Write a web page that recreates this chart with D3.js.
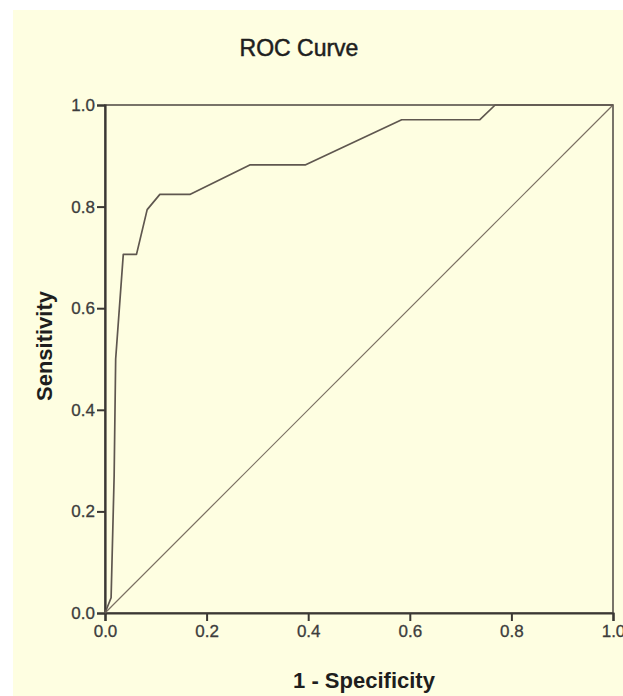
<!DOCTYPE html>
<html>
<head>
<meta charset="utf-8">
<script src="https://cdn.jsdelivr.net/npm/d3@7"></script>
<style>
  html, body { margin: 0; padding: 0; background: #fff; }
  svg { display: block; font-family: "Liberation Sans", Arial, sans-serif; }
</style>
</head>
<body>
<svg id="chart" width="623" height="696"></svg>
<script>
// ROC curve points (1 - specificity, sensitivity)
const fpr = [0, 0.012, 0.018, 0.021, 0.036, 0.062, 0.083, 0.108, 0.167, 0.285, 0.394, 0.584, 0.738, 0.768, 1.0];
const tpr = [0, 0.03, 0.27, 0.50, 0.706, 0.706, 0.794, 0.824, 0.824, 0.882, 0.882, 0.971, 0.971, 1.0, 1.0];
const refLine = [0, 1];
const ticks = [0, 0.2, 0.4, 0.6, 0.8, 1.0];

const svg = d3.select('#chart');
const W = 623, H = 696;
const m = {left: 105, right: 10, top: 105, bottom: 83};

// pale yellow chart panel
svg.append('rect').attr('x', 13).attr('y', 10).attr('width', W - 13).attr('height', H - 10)
  .attr('fill', '#fefee1');

const x = d3.scaleLinear().domain([0, 1]).range([m.left, W - m.right]);
const y = d3.scaleLinear().domain([0, 1]).range([H - m.bottom, m.top]);

// frame
svg.append('rect').attr('x', x(0)).attr('y', y(1))
  .attr('width', x(1) - x(0)).attr('height', y(0) - y(1))
  .attr('fill', 'none').attr('stroke', '#57524b').attr('stroke-width', 1.6);

// axes
const fmt = d3.format('.1f');
const xAxis = svg.append('g').attr('transform', `translate(0,${y(0)})`)
  .call(d3.axisBottom(x).tickValues(ticks).tickFormat(fmt).tickSize(8).tickPadding(4));
const yAxis = svg.append('g').attr('transform', `translate(${x(0)},0)`)
  .call(d3.axisLeft(y).tickValues(ticks).tickFormat(fmt).tickSize(8).tickPadding(2));

[xAxis, yAxis].forEach(a => {
  a.select('.domain').attr('stroke', '#3b3834').attr('stroke-width', 2.2);
  a.selectAll('.tick line').attr('stroke', '#3b3834').attr('stroke-width', 2);
  a.selectAll('.tick text').attr('fill', '#3c3c3c').style('font-size', '17px')
    .attr('stroke', '#3c3c3c').attr('stroke-width', 0.3)
    .style('font-family', '"Liberation Sans", Arial, sans-serif');
});

// diagonal reference line
svg.append('line')
  .attr('x1', x(refLine[0])).attr('y1', y(refLine[0]))
  .attr('x2', x(refLine[1])).attr('y2', y(refLine[1]))
  .attr('stroke', '#7a6f62').attr('stroke-width', 1.2);

// ROC curve
const pts = fpr.map((f, i) => [f, tpr[i]]);
svg.append('path').datum(pts)
  .attr('fill', 'none').attr('stroke', '#5f574f').attr('stroke-width', 1.7)
  .attr('stroke-linejoin', 'round')
  .attr('d', d3.line().x(d => x(d[0])).y(d => y(d[1])));

// titles
svg.append('text').attr('x', 299).attr('y', 56).attr('text-anchor', 'middle')
  .attr('fill', '#1e1e1e').attr('stroke', '#1e1e1e').attr('stroke-width', 0.5)
  .style('font-size', '23px').text('ROC Curve');

svg.append('text').attr('x', 364).attr('y', 688).attr('text-anchor', 'middle')
  .attr('fill', '#1e1e1e').style('font-size', '22px').style('font-weight', 'bold')
  .text('1 - Specificity');

svg.append('text').attr('transform', 'translate(52,346) rotate(-90)').attr('text-anchor', 'middle')
  .attr('fill', '#1e1e1e').style('font-size', '22px').style('font-weight', 'bold')
  .text('Sensitivity');
</script>
</body>
</html>
